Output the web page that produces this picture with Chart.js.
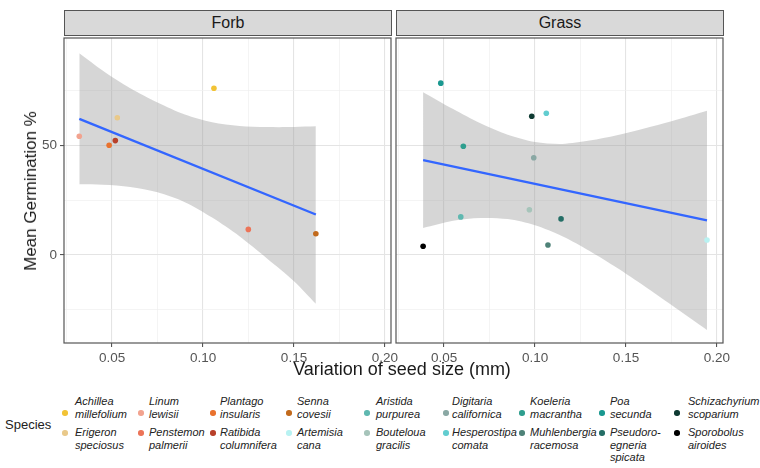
<!DOCTYPE html>
<html>
<head>
<meta charset="utf-8">
<script src="https://cdn.jsdelivr.net/npm/chart.js@4.4.1/dist/chart.umd.min.js"></script>
<style>
  body { margin: 0; background: #fff; font-family: "Liberation Sans", Arial, sans-serif; }
  #wrap { position: relative; width: 760px; height: 468px; overflow: hidden; }
  .strip {
    position: absolute; top: 10px; height: 26px; box-sizing: border-box;
    background: #d9d9d9; border: 1.2px solid #555; text-align: center;
    font-size: 16px; line-height: 24px; color: #1a1a1a;
  }
  .panel { position: absolute; top: 34px; height: 333px; }
  .xtitle { position: absolute; top: 359px; left: 0; width: 804px; text-align: center; font-size: 18px; color: #1a1a1a; }
  .ytitle {
    position: absolute; left: 31px; top: 191px; font-size: 17px; color: #1a1a1a;
    transform: translate(-50%, -50%) rotate(-90deg); white-space: nowrap;
  }
  .legtitle { position: absolute; left: 5px; top: 417px; font-size: 13px; color: #222; }
  .key { position: absolute; width: 5.5px; height: 5.5px; border-radius: 50%; }
  .lab { position: absolute; font-size: 11px; line-height: 12.5px; font-style: italic; color: #222; white-space: pre; }
</style>
</head>
<body>
<div id="wrap">
  <div class="strip" style="left:64px;width:328px">Forb</div>
  <div class="strip" style="left:396px;width:328px">Grass</div>
  <div class="panel" style="left:0;width:400px"><canvas id="forbChart"></canvas></div>
  <div class="panel" style="left:390px;width:370px"><canvas id="grassChart"></canvas></div>
  <div class="xtitle">Variation of seed size (mm)</div>
  <div class="ytitle">Mean Germination %</div>
  <div class="legtitle">Species</div>
  <div id="legend"></div>
</div>
<script>
/* ── DATA ───────────────────────────────────────── */
const forbSpecies = ["Linum lewisii", "Plantago insularis", "Ratibida columnifera", "Erigeron speciosus",
  "Achillea millefolium", "Penstemon palmeri", "Senna covesii"];
const forbSize = [0.032, 0.0484, 0.0518, 0.0529, 0.106, 0.1249, 0.162];
const forbGerm = [54.1, 50.0, 52.1, 62.5, 76.0, 11.6, 9.6];

const grassSpecies = ["Poa secunda", "Schizachyrium scoparium", "Hesperostipa comata", "Koeleria macrantha",
  "Digitaria californica", "Bouteloua gracilis", "Aristida purpurea", "Pseudoroegneria spicata",
  "Sporobolus airoides", "Muhlenbergia racemosa", "Artemisia cana"];
const grassSize = [0.0482, 0.0982, 0.1062, 0.0606, 0.0993, 0.0969, 0.0592, 0.1143, 0.0385, 0.1071, 0.1945];
const grassGerm = [78.3, 63.2, 64.6, 49.5, 44.3, 20.6, 17.3, 16.4, 3.9, 4.5, 6.8];

// fitted lm line and its 95% band
const forbFitX = [0.032, 0.162];
const forbFitY = [62.0, 18.4];
const forbBandX = [0.032, 0.045, 0.06, 0.075, 0.09, 0.105, 0.12, 0.135, 0.15, 0.162];
const forbBandUpper = [92.0, 84.0, 76.0, 69.5, 64.0, 60.5, 58.8, 58.3, 58.3, 58.6];
const forbBandLower = [32.2, 32.0, 31.0, 28.5, 24.0, 17.0, 8.5, -1.5, -12.0, -22.3];

const grassFitX = [0.0385, 0.1945];
const grassFitY = [43.2, 15.7];
const grassBandX = [0.0385, 0.055, 0.07, 0.085, 0.10, 0.115, 0.13, 0.145, 0.16, 0.175, 0.1945];
const grassBandUpper = [74.2, 66.5, 60.0, 54.8, 51.5, 50.6, 52.1, 54.5, 57.6, 60.9, 65.7];
const grassBandLower = [12.2, 15.5, 16.8, 16.3, 13.5, 8.5, 1.8, -5.9, -14.2, -22.9, -34.3];

const xMajor = [0.05, 0.10, 0.15, 0.20];
const xMinor = [0.025, 0.075, 0.125, 0.175];
const yMajor = [0, 50];
const yMinor = [-25, 25, 75];

// legend order (column by column) and wrapped labels
const legendSpecies = ["Achillea millefolium", "Erigeron speciosus", "Linum lewisii", "Penstemon palmeri",
  "Plantago insularis", "Ratibida columnifera", "Senna covesii", "Artemisia cana",
  "Aristida purpurea", "Bouteloua gracilis", "Digitaria californica", "Hesperostipa comata",
  "Koeleria macrantha", "Muhlenbergia racemosa", "Poa secunda", "Pseudoroegneria spicata",
  "Schizachyrium scoparium", "Sporobolus airoides"];
const legendLabels = ["Achillea\nmillefolium", "Erigeron\nspeciosus", "Linum\nlewisii", "Penstemon\npalmerii",
  "Plantago\ninsularis", "Ratibida\ncolumnifera", "Senna\ncovesii", "Artemisia\ncana",
  "Aristida\npurpurea", "Bouteloua\ngracilis", "Digitaria\ncalifornica", "Hesperostipa\ncomata",
  "Koeleria\nmacrantha", "Muhlenbergia\nracemosa", "Poa\nsecunda", "Pseudoro-\negneria\nspicata",
  "Schizachyrium\nscoparium", "Sporobolus\nairoides"];

/* ── STYLE ──────────────────────────────────────── */
const speciesColor = {
  "Achillea millefolium": "#f2c335",
  "Erigeron speciosus": "#e9c98a",
  "Linum lewisii": "#f2a38f",
  "Penstemon palmeri": "#ec7458",
  "Plantago insularis": "#e9722e",
  "Ratibida columnifera": "#b8402a",
  "Senna covesii": "#c26a1c",
  "Artemisia cana": "#b8f2f2",
  "Aristida purpurea": "#5fb8b0",
  "Bouteloua gracilis": "#a6c4ba",
  "Digitaria californica": "#8aa8a4",
  "Hesperostipa comata": "#62cdd0",
  "Koeleria macrantha": "#2e9e8e",
  "Muhlenbergia racemosa": "#4e8278",
  "Poa secunda": "#1a9890",
  "Pseudoroegneria spicata": "#246e66",
  "Schizachyrium scoparium": "#0e3a32",
  "Sporobolus airoides": "#000000"
};
const legendDotX = [65, 141, 213, 289, 367, 446, 522, 602, 677];
const legendTextX = [75, 149, 220, 297, 376, 452, 530, 610, 688];
const legendDotY = [413, 433];
const legendTextY = [395, 426];

Chart.defaults.font.family = '"Liberation Sans", Arial, sans-serif';

/* ── PANEL BORDER ───────────────────────────────── */
const panelBorder = {
  id: "panelBorder",
  afterDraw(chart) {
    const { ctx, chartArea: a } = chart;
    ctx.save();
    ctx.strokeStyle = "#555";
    ctx.lineWidth = 1.2;
    ctx.strokeRect(a.left, a.top, a.right - a.left, a.bottom - a.top);
    ctx.restore();
  }
};

const pts = (xs, ys) => xs.map((x, i) => ({ x, y: ys[i] }));
const isMajor = (list, v) => list.includes(v);

/* ── BUILD ONE FACET ────────────────────────────── */
function makePanel(id, p) {
  const ctx = document.getElementById(id).getContext("2d");
  return new Chart(ctx, {
    type: "line",
    data: {
      datasets: [
        {
          type: "scatter",
          data: pts(p.size, p.germ),
          backgroundColor: p.species.map((s) => speciesColor[s]),
          pointRadius: 2.8,
          borderWidth: 0,
          order: 0
        },
        {
          data: pts(p.fitX, p.fitY),
          borderColor: "#3366ff",
          borderWidth: 2.4,
          pointRadius: 0,
          fill: false,
          order: 1
        },
        {
          data: pts(p.bandX, p.upper),
          borderWidth: 0,
          pointRadius: 0,
          tension: 0.3,
          backgroundColor: "rgba(153,153,153,0.4)",
          fill: "+1",
          order: 2
        },
        {
          data: pts(p.bandX, p.lower),
          borderWidth: 0,
          pointRadius: 0,
          tension: 0.3,
          fill: false,
          order: 3
        }
      ]
    },
    options: {
      responsive: true,
      maintainAspectRatio: false,
      animation: false,
      layout: { padding: { top: 1, right: p.padRight, left: 0, bottom: 0 } },
      plugins: { legend: { display: false }, tooltip: { enabled: false } },
      scales: {
        x: {
          type: "linear",
          min: 0.0236,
          max: 0.2033,
          afterBuildTicks: (s) => {
            s.ticks = [...xMinor, ...xMajor].sort((a, b) => a - b).map((v) => ({ value: v }));
          },
          afterFit: (s) => {
            s.height = 24;
            s.paddingLeft = 0;
            s.paddingRight = 0;
          },
          border: { display: false },
          grid: {
            color: (c) => (isMajor(xMajor, c.tick.value) ? "#e4e4e4" : "#efefef"),
            lineWidth: (c) => (isMajor(xMajor, c.tick.value) ? 1.1 : 0.7),
            tickColor: (c) => (isMajor(xMajor, c.tick.value) ? "#555" : "rgba(0,0,0,0)"),
            tickLength: 4
          },
          ticks: {
            autoSkip: false,
            maxRotation: 0,
            padding: 3,
            color: "#555",
            font: { size: 13.5 },
            callback: (v) => (isMajor(xMajor, v) ? v.toFixed(2) : "")
          }
        },
        y: {
          type: "linear",
          min: -40.2,
          max: 98.9,
          afterBuildTicks: (s) => {
            s.ticks = [...yMinor, ...yMajor].sort((a, b) => a - b).map((v) => ({ value: v }));
          },
          afterFit: (s) => {
            s.width = p.yWidth;
            s.paddingTop = 0;
            s.paddingBottom = 0;
          },
          border: { display: false },
          grid: {
            color: (c) => (isMajor(yMajor, c.tick.value) ? "#e4e4e4" : "#efefef"),
            lineWidth: (c) => (isMajor(yMajor, c.tick.value) ? 1.1 : 0.7),
            tickColor: (c) => (isMajor(yMajor, c.tick.value) ? "#555" : "rgba(0,0,0,0)"),
            drawTicks: p.showY,
            tickLength: 4
          },
          ticks: {
            display: p.showY,
            padding: 3,
            color: "#555",
            font: { size: 13.5 },
            callback: (v) => (isMajor(yMajor, v) ? String(v) : "")
          }
        }
      }
    },
    plugins: [panelBorder]
  });
}

makePanel("forbChart", {
  species: forbSpecies, size: forbSize, germ: forbGerm,
  fitX: forbFitX, fitY: forbFitY,
  bandX: forbBandX, upper: forbBandUpper, lower: forbBandLower,
  yWidth: 64, padRight: 9, showY: true
});

makePanel("grassChart", {
  species: grassSpecies, size: grassSize, germ: grassGerm,
  fitX: grassFitX, fitY: grassFitY,
  bandX: grassBandX, upper: grassBandUpper, lower: grassBandLower,
  yWidth: 6, padRight: 37, showY: false
});

/* ── LEGEND ─────────────────────────────────────── */
const legendEl = document.getElementById("legend");
legendSpecies.forEach((name, i) => {
  const col = Math.floor(i / 2);
  const row = i % 2;
  const dot = document.createElement("div");
  dot.className = "key";
  dot.style.left = legendDotX[col] - 2.75 + "px";
  dot.style.top = legendDotY[row] - 2.75 + "px";
  dot.style.background = speciesColor[name];
  legendEl.appendChild(dot);

  const lab = document.createElement("div");
  lab.className = "lab";
  lab.style.left = legendTextX[col] + "px";
  lab.style.top = legendTextY[row] + "px";
  lab.textContent = legendLabels[i];
  legendEl.appendChild(lab);
});
</script>
</body>
</html>
